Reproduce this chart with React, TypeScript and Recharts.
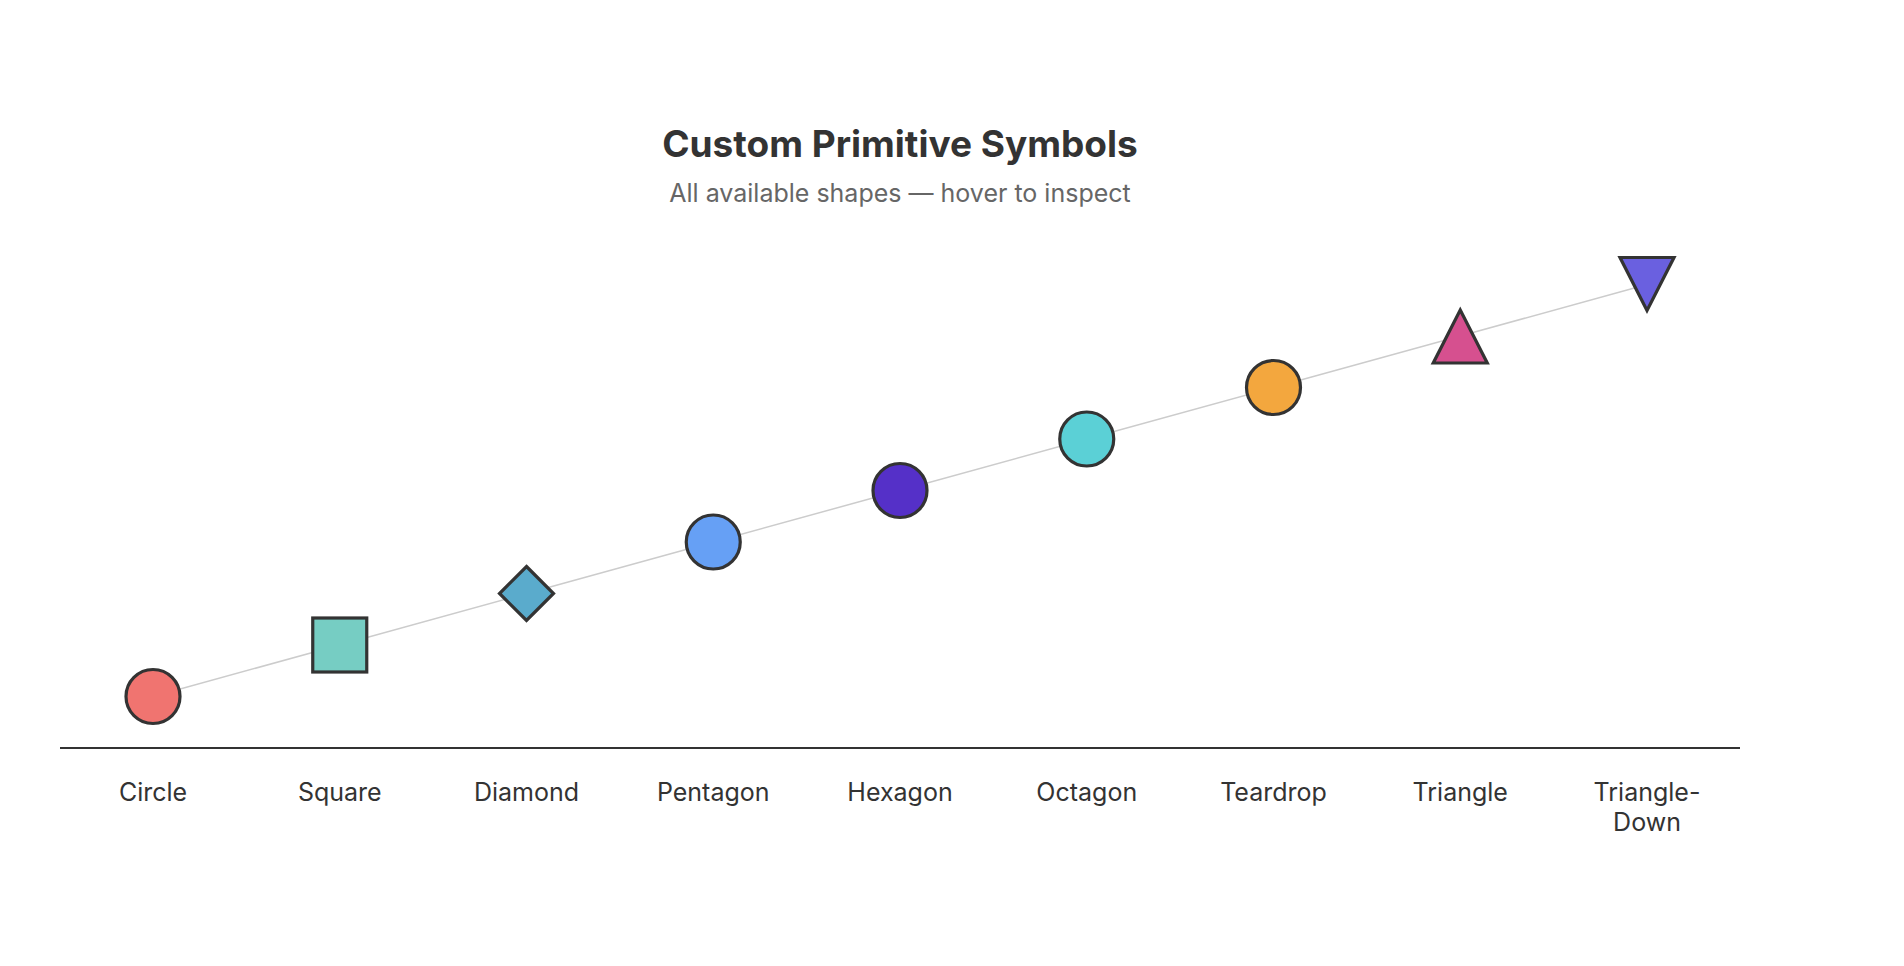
import { LineChart, Line, XAxis, YAxis } from 'recharts'

const categories = [
  'Circle',
  'Square',
  'Diamond',
  'Pentagon',
  'Hexagon',
  'Octagon',
  'Teardrop',
  'Triangle',
  'Triangle-Down',
]
const values = [1, 2, 3, 4, 5, 6, 7, 8, 9]
const colors = [
  '#f07470',
  '#76cdc3',
  '#5aabcc',
  '#66a0f5',
  '#5530c8',
  '#5bd0d6',
  '#f3a73e',
  '#d6508f',
  '#6a60e0',
]
// pentagon/hexagon/octagon/teardrop show up as plain circles in the original
const shapes = [
  'circle',
  'square',
  'diamond',
  'circle',
  'circle',
  'circle',
  'circle',
  'triangle',
  'triangle-down',
]

const data = categories.map((name, i) => ({
  name,
  value: values[i],
  color: colors[i],
  shape: shapes[i],
}))

const STROKE = '#333'

function SymbolDot(props: any) {
  const { cx, cy, payload, index } = props
  if (cx == null || cy == null) return null
  const common = { fill: payload.color, stroke: STROKE, strokeWidth: 3.2 }
  switch (payload.shape) {
    case 'square':
      return <rect key={index} x={cx - 27} y={cy - 27} width={54} height={54} {...common} />
    case 'diamond':
      return (
        <path
          key={index}
          d={`M${cx},${cy - 27}L${cx + 27},${cy}L${cx},${cy + 27}L${cx - 27},${cy}Z`}
          {...common}
        />
      )
    case 'triangle':
      return (
        <path
          key={index}
          d={`M${cx},${cy - 26}L${cx + 27},${cy + 27}L${cx - 27},${cy + 27}Z`}
          {...common}
        />
      )
    case 'triangle-down':
      return (
        <path
          key={index}
          d={`M${cx - 27},${cy - 27}L${cx + 27},${cy - 27}L${cx},${cy + 26}Z`}
          {...common}
        />
      )
    default:
      return <circle key={index} cx={cx} cy={cy} r={27} {...common} />
  }
}

function CategoryTick(props: any) {
  const { x, y, payload } = props
  const label: string = payload.value
  const dash = label.indexOf('-')
  const lines = dash > 0 ? [label.slice(0, dash + 1), label.slice(dash + 1)] : [label]
  return (
    <text x={x} y={y} textAnchor="middle" fill="#333" fontSize={25} fontFamily="Inter, sans-serif">
      {lines.map((l, i) => (
        <tspan key={i} x={x} dy={i === 0 ? 45 : 30}>
          {l}
        </tspan>
      ))}
    </text>
  )
}

export default function App() {
  return (
    <div style={{ position: 'relative', width: 1888, height: 946, fontFamily: 'Inter, sans-serif' }}>
      <div
        style={{
          position: 'absolute',
          left: 52,
          width: 1680,
          top: 114,
          textAlign: 'center',
          fontSize: 37,
          fontWeight: 700,
          color: '#333',
          lineHeight: '44px',
        }}
      >
        Custom Primitive Symbols
      </div>
      <div
        style={{
          position: 'absolute',
          left: 52,
          width: 1680,
          top: 170,
          textAlign: 'center',
          fontSize: 25,
          color: '#666',
          lineHeight: '30px',
        }}
      >
        All available shapes — hover to inspect
      </div>
      <LineChart
        width={1888}
        height={946}
        data={data}
        margin={{ top: 225, right: 156, bottom: 126, left: 52 }}
      >
        <XAxis
          dataKey="name"
          height={80}
          tickLine={false}
          axisLine={{ stroke: '#333', strokeWidth: 2 }}
          tick={<CategoryTick />}
          interval={0}
          padding={{ left: 93, right: 93 }}
        />
        <YAxis hide domain={[0, 10]} />
        <Line
          dataKey="value"
          stroke="#ccc"
          strokeWidth={1.5}
          dot={<SymbolDot />}
          activeDot={false}
          isAnimationActive={false}
        />
      </LineChart>
    </div>
  )
}
